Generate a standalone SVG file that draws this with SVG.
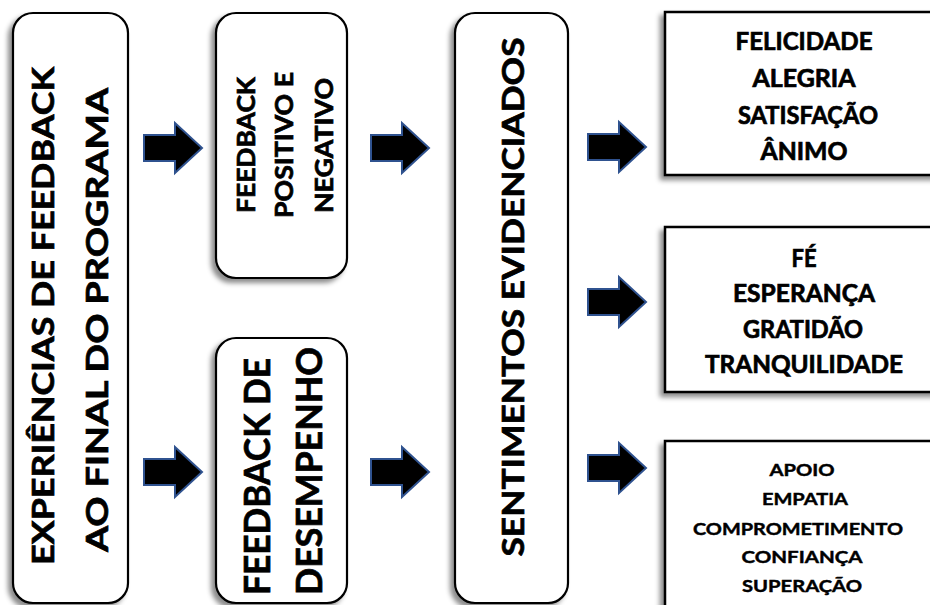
<svg xmlns="http://www.w3.org/2000/svg" width="930" height="605" viewBox="0 0 930 605">
  <defs>
    <filter id="shadow" x="-20%" y="-20%" width="140%" height="140%">
      <feDropShadow dx="-4" dy="4" stdDeviation="2.5" flood-color="#000" flood-opacity="0.45"/>
    </filter>
    <!-- block arrow, origin at tail centre -->
    <path id="blockArrow" d="M0,-13 H31 V-25 L58,0 L31,25 V13 H0 Z"/>
  </defs>
  <style>
    .rbox { fill: #fff; stroke: #000; stroke-width: 2.2; filter: url(#shadow); }
    .sbox { fill: #fff; stroke: #000; stroke-width: 2.5; filter: url(#shadow); }
    .lbl { font-family: Lato, "Open Sans", "Liberation Sans", sans-serif; font-weight: bold; fill: #000; stroke: #000; stroke-width: 0.7; text-anchor: middle; }
    .sm { stroke-width: 0.45; }
    .arrow { fill: #000; stroke: #2F528F; stroke-width: 2; stroke-linejoin: miter; }
  </style>

  <rect width="930" height="605" fill="#fff"/>

  <!-- column 1 -->
  <g id="experiencias">
    <rect class="rbox" x="13" y="13" width="115" height="590" rx="20"/>
    <text class="lbl" font-size="31" transform="translate(54,316) rotate(-90)" textLength="498" lengthAdjust="spacingAndGlyphs">EXPERIÊNCIAS DE FEEDBACK</text>
    <text class="lbl" font-size="31" transform="translate(108,320) rotate(-90)" textLength="464" lengthAdjust="spacingAndGlyphs">AO FINAL DO PROGRAMA</text>
  </g>

  <!-- column 2 -->
  <g id="feedback-pos-neg">
    <rect class="rbox" x="216" y="13" width="131" height="265" rx="20"/>
    <text class="lbl" font-size="25" transform="translate(255,145) rotate(-90)" textLength="136" lengthAdjust="spacingAndGlyphs">FEEDBACK</text>
    <text class="lbl" font-size="25" transform="translate(293,145) rotate(-90)" textLength="146" lengthAdjust="spacingAndGlyphs">POSITIVO E</text>
    <text class="lbl" font-size="25" transform="translate(333,145.5) rotate(-90)" textLength="135" lengthAdjust="spacingAndGlyphs">NEGATIVO</text>
  </g>

  <g id="feedback-desempenho">
    <rect class="rbox" x="216" y="338" width="131" height="265" rx="20"/>
    <text class="lbl" font-size="37" transform="translate(270,476.5) rotate(-90)" textLength="237" lengthAdjust="spacingAndGlyphs">FEEDBACK DE</text>
    <text class="lbl" font-size="37" transform="translate(322,471) rotate(-90)" textLength="248" lengthAdjust="spacingAndGlyphs">DESEMPENHO</text>
  </g>

  <!-- column 3 -->
  <g id="sentimentos">
    <rect class="rbox" x="455" y="13" width="113" height="590" rx="20"/>
    <text class="lbl" font-size="31" transform="translate(524,297) rotate(-90)" textLength="519" lengthAdjust="spacingAndGlyphs">SENTIMENTOS EVIDENCIADOS</text>
  </g>

  <!-- column 4 -->
  <g id="grupo-felicidade">
    <rect class="sbox" x="665" y="12" width="275" height="163"/>
    <text class="lbl" font-size="24" x="804" y="50" textLength="137" lengthAdjust="spacingAndGlyphs">FELICIDADE</text>
    <text class="lbl" font-size="24" x="804" y="87" textLength="103" lengthAdjust="spacingAndGlyphs">ALEGRIA</text>
    <text class="lbl" font-size="24" x="808" y="124" textLength="140" lengthAdjust="spacingAndGlyphs">SATISFAÇÃO</text>
    <text class="lbl" font-size="24" x="804" y="160" textLength="87" lengthAdjust="spacingAndGlyphs">ÂNIMO</text>
  </g>

  <g id="grupo-fe">
    <rect class="sbox" x="665" y="227" width="275" height="165"/>
    <text class="lbl" font-size="24" x="804" y="267" textLength="25" lengthAdjust="spacingAndGlyphs">FÉ</text>
    <text class="lbl" font-size="24" x="804" y="302" textLength="142" lengthAdjust="spacingAndGlyphs">ESPERANÇA</text>
    <text class="lbl" font-size="24" x="803" y="338" textLength="120" lengthAdjust="spacingAndGlyphs">GRATIDÃO</text>
    <text class="lbl" font-size="24" x="804" y="373" textLength="198" lengthAdjust="spacingAndGlyphs">TRANQUILIDADE</text>
  </g>

  <g id="grupo-apoio">
    <rect class="sbox" x="665" y="441" width="275" height="180"/>
    <text class="lbl sm" font-size="17" x="802" y="476" textLength="65" lengthAdjust="spacingAndGlyphs">APOIO</text>
    <text class="lbl sm" font-size="17" x="805" y="505" textLength="86" lengthAdjust="spacingAndGlyphs">EMPATIA</text>
    <text class="lbl sm" font-size="17" x="798" y="535" textLength="210" lengthAdjust="spacingAndGlyphs">COMPROMETIMENTO</text>
    <text class="lbl sm" font-size="17" x="802" y="563" textLength="121" lengthAdjust="spacingAndGlyphs">CONFIANÇA</text>
    <text class="lbl sm" font-size="17" x="802" y="592" textLength="120" lengthAdjust="spacingAndGlyphs">SUPERAÇÃO</text>
  </g>

  <!-- connectors: block arrows -->
  <g id="connectors" class="arrow">
    <use href="#blockArrow" transform="translate(144,148)"/>
    <use href="#blockArrow" transform="translate(144,472)"/>
    <use href="#blockArrow" transform="translate(371,148)"/>
    <use href="#blockArrow" transform="translate(371,472)"/>
    <use href="#blockArrow" transform="translate(588,147)"/>
    <use href="#blockArrow" transform="translate(588,302)"/>
    <use href="#blockArrow" transform="translate(588,468)"/>
  </g>
</svg>
